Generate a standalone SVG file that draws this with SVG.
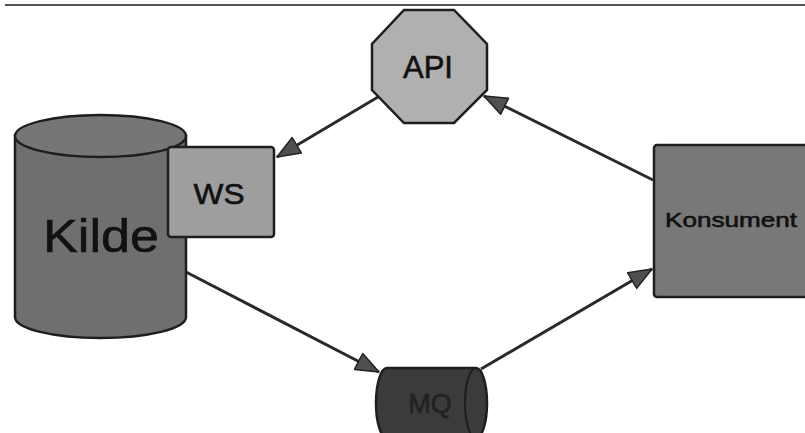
<svg xmlns="http://www.w3.org/2000/svg" width="805" height="433" viewBox="0 0 805 433">
<style>
  .lbl { font-family: "Liberation Sans", Arial, sans-serif; fill: #111; stroke: #111; stroke-width: 0.6; }
  .outline { stroke: #1e1e1e; stroke-width: 2.5; }
  .conn { stroke: #2a2a2a; stroke-width: 3; fill: none; marker-end: url(#head); }
</style>
<defs>
  <marker id="head" markerUnits="userSpaceOnUse" markerWidth="26" markerHeight="22" viewBox="0 0 26 22" refX="24" refY="11" orient="auto">
    <path d="M1,2 L24,11 L1,20 Z" fill="#505050" stroke="#222" stroke-width="1.5" stroke-linejoin="round"/>
  </marker>
</defs>
<rect width="805" height="433" fill="#ffffff"/>
<line x1="5" y1="5" x2="805" y2="5" stroke="#555" stroke-width="2"/>

<g id="connectors">
  <line class="conn" x1="378" y1="97" x2="277" y2="157"/>
  <line class="conn" x1="653" y1="180" x2="484" y2="96"/>
  <line class="conn" x1="186" y1="272" x2="379" y2="372"/>
  <line class="conn" x1="481" y1="369" x2="652" y2="269"/>
</g>

<g id="kilde">
  <path class="outline" d="M15,136 V317 A85.5,21 0 0 0 186,317 V136 Z" fill="#6f6f6f"/>
  <ellipse class="outline" cx="100.5" cy="136" rx="85.5" ry="21" fill="#767676"/>
  <text class="lbl" x="101" y="252" font-size="47" text-anchor="middle" textLength="116" lengthAdjust="spacingAndGlyphs">Kilde</text>
</g>

<g id="ws">
  <rect class="outline" x="168" y="147" width="106" height="90" rx="3" fill="#9e9e9e"/>
  <text class="lbl" x="219" y="204" font-size="29" text-anchor="middle" textLength="51" lengthAdjust="spacingAndGlyphs">WS</text>
</g>

<g id="api">
  <polygon class="outline" points="404,10 454,10 487,44 487,90 454,123 404,123 372,90 372,44" fill="#b0b0b0"/>
  <text class="lbl" x="428" y="78" font-size="31" text-anchor="middle">API</text>
</g>

<g id="konsument">
  <rect class="outline" x="654" y="145" width="160" height="152" rx="3" fill="#787878"/>
  <text class="lbl" x="665" y="227" font-size="21" textLength="132" lengthAdjust="spacingAndGlyphs">Konsument</text>
</g>

<g id="mq">
  <path class="outline" d="M387,368 H476 A11,35 0 0 1 476,438 H387 A11,35 0 0 1 387,368 Z" fill="#3b3b3b"/>
  <path d="M476,368 A11,35 0 0 0 476,438" fill="none" stroke="#1e1e1e" stroke-width="2"/>
  <text x="430" y="413" font-size="27" text-anchor="middle" font-family="Liberation Sans, Arial, sans-serif" fill="#222" stroke="#222" stroke-width="0.6">MQ</text>
</g>
</svg>
